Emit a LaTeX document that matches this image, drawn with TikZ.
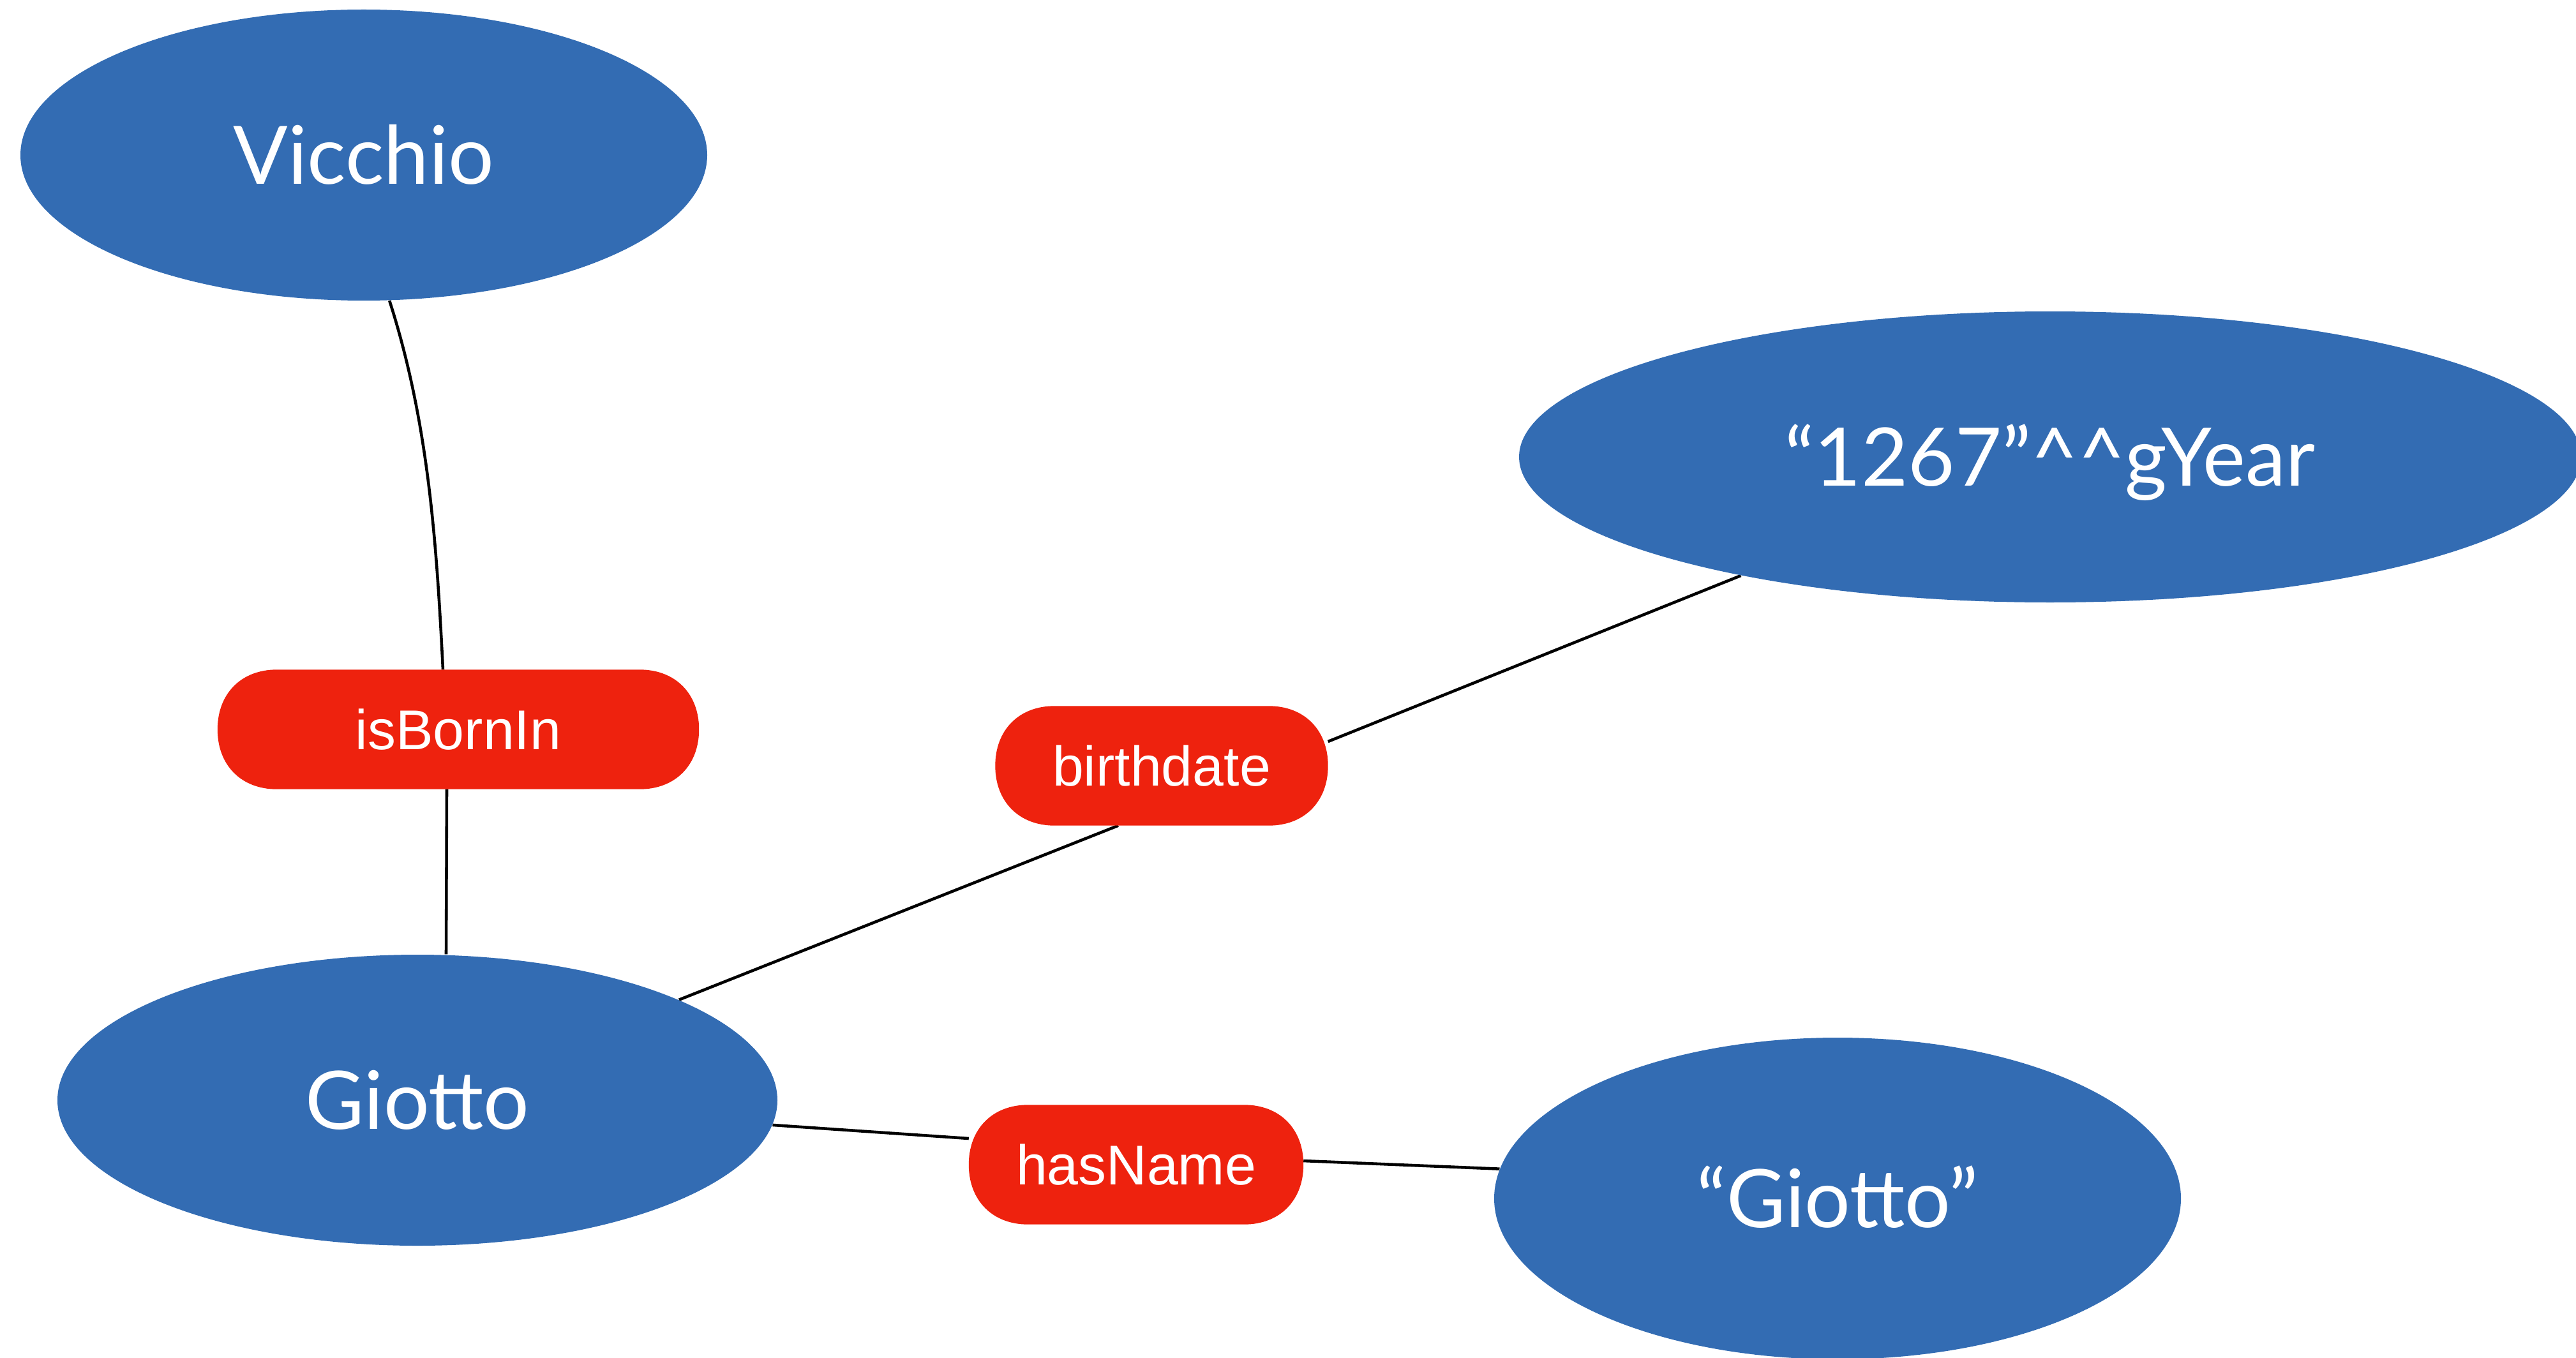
\documentclass[tikz,border=0pt]{standalone}
\usepackage{fontspec}
\usetikzlibrary{shapes.geometric}
\newfontfamily\ellfont{Lato}
\newfontfamily\relfont{Liberation Sans}
\definecolor{nodeblue}{RGB}{51,108,179}
\definecolor{propred}{RGB}{238,34,14}
\pgfdeclarelayer{background}
\pgfsetlayers{background,main}
\tikzset{
  res/.style={ellipse, fill=nodeblue, draw=none, inner sep=0pt, text=white,
    font=\ellfont\fontsize{36}{40}\selectfont, text height=0.91cm, text depth=0pt},
  prop/.style={rectangle, draw=none, inner sep=0pt, text=white, minimum height=1.86cm,
    font=\relfont\fontsize{25}{29}\selectfont, text height=0.63cm, text depth=0pt},
  link/.style={draw=black, line width=1.3pt},
  propfill/.style={fill=propred}
}
\newcommand\propshape[1]{%
  \fill[propfill] ([xshift=0.93cm]#1.north west) -- ([xshift=-0.93cm]#1.north east)
    .. controls ([xshift=-0.37cm]#1.north east) and ([yshift=0.56cm]#1.east) .. (#1.east)
    .. controls ([yshift=-0.56cm]#1.east) and ([xshift=-0.37cm]#1.south east) .. ([xshift=-0.93cm]#1.south east)
    -- ([xshift=0.93cm]#1.south west)
    .. controls ([xshift=0.37cm]#1.south west) and ([yshift=-0.56cm]#1.west) .. (#1.west)
    .. controls ([yshift=0.56cm]#1.west) and ([xshift=0.37cm]#1.north west) .. ([xshift=0.93cm]#1.north west)
    -- cycle;}
\begin{document}
\begin{tikzpicture}
\useasboundingbox (0,0) rectangle (40.36,-21.28);
% resource nodes
\node[res, minimum width=10.76cm, minimum height=4.56cm] (vicchio) at (5.70,-2.43) {Vicchio};
\node[res, minimum width=16.64cm, minimum height=4.56cm] (gyear) at (32.12,-7.16) {“1267”\textasciicircum\textasciicircum gYear};
\node[res, minimum width=11.28cm, minimum height=4.56cm] (giotto) at (6.54,-17.24) {Giotto};
\node[res, minimum width=10.76cm, minimum height=5.04cm] (lit) at (28.79,-18.78) {“Giotto”};
% property nodes (text only; shapes drawn on the background layer)
\node[prop, minimum width=7.53cm] (isbornin) at (7.18,-11.43) {isBornIn};
\node[prop, minimum width=5.20cm] (birthdate) at (18.20,-12.00) {birthdate};
\node[prop, minimum width=5.23cm] (hasname) at (17.80,-18.25) {hasName};
\begin{pgfonlayer}{background}
  \draw[link] (vicchio.-80) .. controls +(0.61,-1.90) and +(-0.10,2.00) .. ([xshift=-0.24cm]isbornin.north);
  \draw[link] ([xshift=-0.18cm]isbornin.south) -- ([xshift=0.45cm]giotto.north);
  \draw[link] (giotto.21.4) -- ([xshift=-0.68cm]birthdate.south);
  \draw[link] ([yshift=0.38cm]birthdate.east) -- (gyear.201.5);
  \draw[link] (giotto.-4) -- ([yshift=0.41cm]hasname.west);
  \draw[link] ([yshift=0.06cm]hasname.east) -- (lit.175.9);
  \propshape{isbornin}
  \propshape{birthdate}
  \propshape{hasname}
\end{pgfonlayer}
\end{tikzpicture}
\end{document}
